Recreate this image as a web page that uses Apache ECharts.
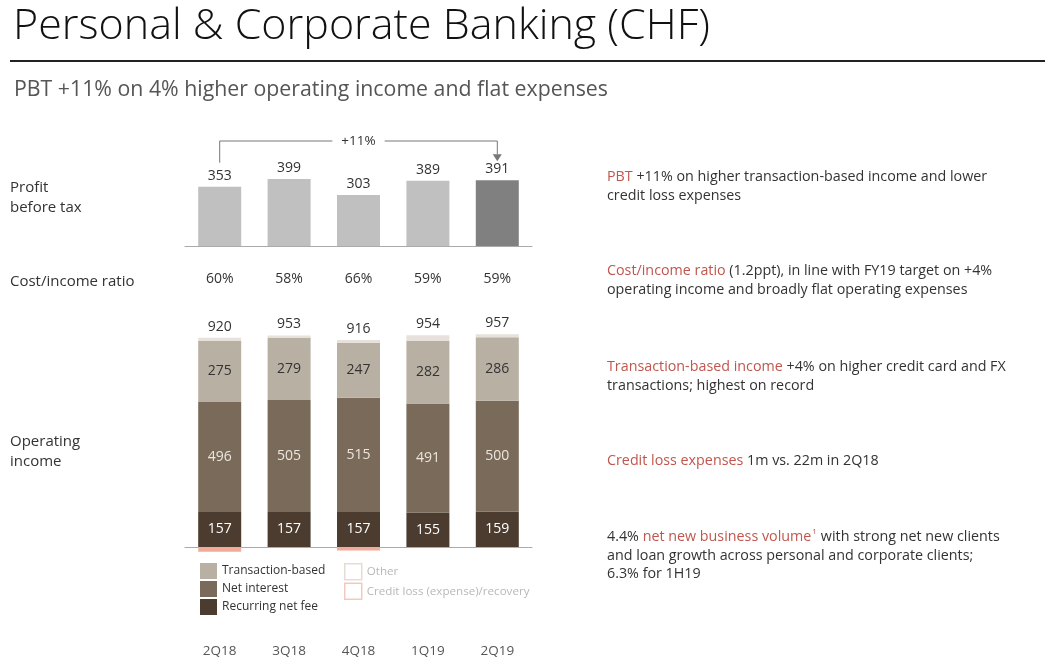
<!DOCTYPE html>
<html>
<head>
<meta charset="utf-8">
<title>Personal &amp; Corporate Banking (CHF)</title>
<script src="https://cdn.jsdelivr.net/npm/echarts@6/dist/echarts.min.js"></script>
<style>
html,body{margin:0;padding:0;background:#fff;}
#chart{width:1055px;height:666px;}
</style>
</head>
<body>
<div id="chart"></div>
<script>
// data
var quarters = ['2Q18', '3Q18', '4Q18', '1Q19', '2Q19'];
var pbt = [353, 399, 303, 389, 391];
var costIncome = ['60%', '58%', '66%', '59%', '59%'];
var recurringFee = [157, 157, 157, 155, 159];
var netInterest = [496, 505, 515, 491, 500];
var transactionBased = [275, 279, 247, 282, 286];
var other = [14, 12, 13, 26, 13];
var creditLoss = [-22, 0, -16, 0, -1];
var opIncome = [920, 953, 916, 954, 957];
var pbtChange = '+11%';

var FONT = "'Open Sans', 'Noto Sans', sans-serif";
var TXT = '#333';
var RED = '#c0564e';

var chart = echarts.init(document.getElementById('chart'));

var option = {
    backgroundColor: '#fff',
    animation: false,
    textStyle: { fontFamily: FONT },
    title: [
        {
            text: 'Personal & Corporate Banking (CHF)',
            left: 8, top: 0,
            textStyle: { fontFamily: FONT, fontSize: 43, fontWeight: 300, color: '#111' }
        },
        {
            text: 'PBT +11% on 4% higher operating income and flat expenses',
            left: 9, top: 74,
            textStyle: { fontFamily: FONT, fontSize: 21.3, fontWeight: 'normal', color: '#555' }
        }
    ],
    legend: [
        {
            orient: 'vertical', left: 195, top: 558,
            itemWidth: 17, itemHeight: 16, itemGap: 2,
            icon: 'rect', selectedMode: false,
            textStyle: { fontFamily: FONT, fontSize: 12, color: TXT },
            data: ['Transaction-based', 'Net interest', 'Recurring net fee']
        },
        {
            orient: 'vertical', left: 339, top: 558,
            itemWidth: 17, itemHeight: 16, itemGap: 2,
            icon: 'rect', selectedMode: false,
            textStyle: { fontFamily: FONT, fontSize: 11.6, color: '#b8b8b8' },
            data: [
                { name: 'Other', itemStyle: { color: '#fff', borderColor: '#e3ddd7', borderWidth: 1.5 } },
                { name: 'Credit loss (expense)/recovery', itemStyle: { color: '#fff', borderColor: '#f3c9bd', borderWidth: 1.5 } }
            ]
        }
    ],
    grid: [
        { left: 185, width: 347, top: 120, height: 126 },
        { left: 185, width: 347, top: 325, height: 233 }
    ],
    xAxis: [
        {
            type: 'category', gridIndex: 0, data: quarters,
            axisLine: { lineStyle: { color: '#aaa' } },
            axisTick: { show: false },
            axisLabel: {
                margin: 26, fontSize: 14, color: TXT, fontFamily: FONT,
                formatter: function (v, i) { return costIncome[i]; }
            }
        },
        {
            type: 'category', gridIndex: 1, data: quarters,
            axisLine: { onZero: true, lineStyle: { color: '#aaa' } },
            axisTick: { show: false },
            axisLabel: { margin: 86, fontSize: 13.5, color: '#555', fontFamily: FONT }
        }
    ],
    yAxis: [
        { type: 'value', gridIndex: 0, min: 0, max: 750, show: false },
        { type: 'value', gridIndex: 1, min: -50, max: 1000, show: false }
    ],
    series: [
        {
            name: 'PBT', type: 'bar', xAxisIndex: 0, yAxisIndex: 0,
            barWidth: 43, data: pbt,
            itemStyle: {
                color: function (p) { return p.dataIndex === pbt.length - 1 ? '#808080' : '#c0c0c0'; }
            },
            label: { show: true, position: 'top', distance: 4, fontSize: 14, color: TXT, fontFamily: FONT }
        },
        {
            name: 'Recurring net fee', type: 'bar', stack: 'oi', xAxisIndex: 1, yAxisIndex: 1,
            barWidth: 43, data: recurringFee, itemStyle: { color: '#4b3c2f' },
            label: { show: true, position: 'inside', fontSize: 14, color: '#fff', fontFamily: FONT }
        },
        {
            name: 'Net interest', type: 'bar', stack: 'oi', xAxisIndex: 1, yAxisIndex: 1,
            barWidth: 43, data: netInterest, itemStyle: { color: '#796a59' },
            label: { show: true, position: 'inside', fontSize: 14, color: '#ece6df', fontFamily: FONT }
        },
        {
            name: 'Transaction-based', type: 'bar', stack: 'oi', xAxisIndex: 1, yAxisIndex: 1,
            barWidth: 43, data: transactionBased, itemStyle: { color: '#b9b0a4' },
            label: { show: true, position: 'inside', fontSize: 14, color: TXT, fontFamily: FONT }
        },
        {
            name: 'Other', type: 'bar', stack: 'oi', xAxisIndex: 1, yAxisIndex: 1,
            barWidth: 43, data: other, itemStyle: { color: '#e6e1db' },
            label: {
                show: true, position: 'top', distance: 4, fontSize: 14, color: TXT, fontFamily: FONT,
                formatter: function (p) { return opIncome[p.dataIndex]; }
            }
        },
        {
            name: 'Credit loss (expense)/recovery', type: 'bar', stack: 'oi', xAxisIndex: 1, yAxisIndex: 1,
            barWidth: 43, data: creditLoss, itemStyle: { color: '#f2aa9b' }
        }
    ]
};

chart.setOption(option);

// annotations placed from the axes
function buildGraphic() {
    var first = chart.convertToPixel({ xAxisIndex: 0, yAxisIndex: 0 }, [quarters[0], pbt[0]]);
    var last = chart.convertToPixel({ xAxisIndex: 0, yAxisIndex: 0 }, [quarters[quarters.length - 1], pbt[pbt.length - 1]]);
    var yTop = 141;
    var yLeft = first[1] - 24;
    var yArrow = last[1] - 26;
    var mid = (first[0] + last[0]) / 2;
    var lineStyle = { stroke: '#777', lineWidth: 1 };

    var rowLabel = function (text, y) {
        return { type: 'text', left: 10, top: y, style: { text: text, font: '15px ' + FONT, fill: TXT, lineHeight: 20 } };
    };
    var note = function (text, y) {
        return {
            type: 'text', left: 607, top: y,
            style: {
                text: text, fontFamily: 'Open Sans', fontSize: 14.3, fill: TXT, lineHeight: 18.5,
                rich: {
                    r: { fill: RED, fontFamily: 'Open Sans', fontSize: 14.3, lineHeight: 18.5 },
                    sup: { fill: RED, fontFamily: 'Open Sans', fontSize: 8, lineHeight: 18.5, verticalAlign: 'top', padding: [0, 4, 8, 1] }
                }
            }
        };
    };

    return [
        { type: 'line', shape: { x1: 10, y1: 61, x2: 1045, y2: 61 }, style: { stroke: '#222', lineWidth: 2 } },
        rowLabel('Profit\nbefore tax', 178),
        rowLabel('Cost/income ratio', 272),
        rowLabel('Operating\nincome', 432),
        { type: 'polyline', shape: { points: [[first[0], yLeft], [first[0], yTop], [last[0], yTop], [last[0], yArrow]] }, style: lineStyle },
        { type: 'polygon', shape: { points: [[last[0] - 4.5, yArrow], [last[0] + 4.5, yArrow], [last[0], yArrow + 7]] }, style: { fill: '#777' } },
        {
            type: 'text', x: mid, y: yTop,
            style: {
                text: pbtChange, font: '13.5px ' + FONT, fill: TXT, align: 'center', verticalAlign: 'middle',
                backgroundColor: '#fff', padding: [2, 9]
            }
        },
        note('{r|PBT} +11% on higher transaction-based income and lower\ncredit loss expenses', 168),
        note('{r|Cost/income ratio} (1.2ppt), in line with FY19 target on +4%\noperating income and broadly flat operating expenses', 262),
        note('{r|Transaction-based income} +4% on higher credit card and FX\ntransactions; highest on record', 358),
        note('{r|Credit loss expenses} 1m vs. 22m in 2Q18', 452),
        note('4.4% {r|net new business volume}{sup|1}with strong net new clients\nand loan growth across personal and corporate clients;\n6.3% for 1H19', 528)
    ];
}

chart.setOption({ graphic: buildGraphic() });
</script>
</body>
</html>
